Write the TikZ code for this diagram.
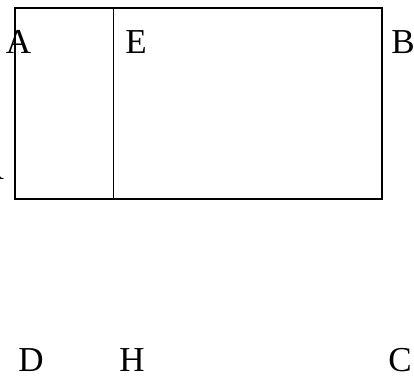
\documentclass[tikz,border=0pt]{standalone}
\usepackage{fontspec}
\setmainfont{Liberation Serif}
\begin{document}
\begin{tikzpicture}[x=1pt,y=-1pt,
    lbl/.style={anchor=base,inner sep=0pt,font=\fontsize{35}{35}\selectfont}]
  \useasboundingbox (0,0) rectangle (414,378);
  \coordinate (a) at (15,8);
  \coordinate (b) at (382,8);
  \coordinate (c) at (382,199);
  \coordinate (d) at (15,199);
  \coordinate (e) at (113,8);
  \coordinate (f) at (113,199);
  \draw
    (18.5,53) node[lbl] (A){A}
    (136,53) node[lbl] (E){E}
    (403,53) node[lbl] (B){B}
    (-8,179) node[lbl] (R){R}
    (31,371) node[lbl] (D){D}
    (132,371) node[lbl] (H){H}
    (400,371) node[lbl] (C){C};
  \begin{scope}[-]
    \draw[line width=1.3pt] (a) -- (b) -- (c) -- (d) -- cycle;
    \draw[line width=1pt] (e) to (f);
  \end{scope}
\end{tikzpicture}
\end{document}
